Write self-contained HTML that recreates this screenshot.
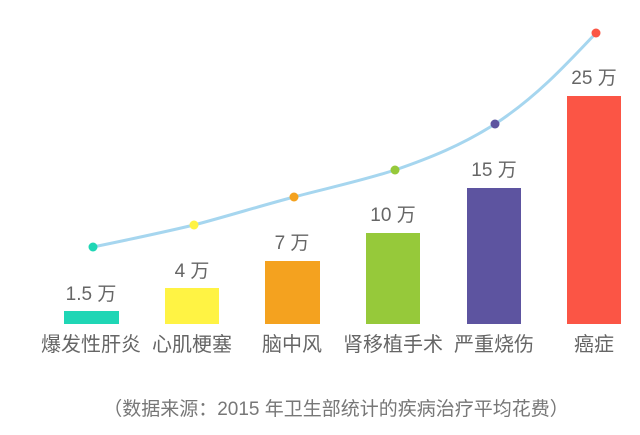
<!DOCTYPE html>
<html><head><meta charset="utf-8"><style>
body{margin:0;background:#fff;}
svg text{font-family:"Liberation Sans","Noto Sans CJK SC",sans-serif;fill:#666;}
</style></head><body>
<svg width="640" height="430" xmlns="http://www.w3.org/2000/svg">
<rect x="64" y="311" width="55" height="13" fill="#1fd6b5"/>
<rect x="165" y="288" width="54" height="36" fill="#fff344"/>
<rect x="265" y="261" width="55" height="63" fill="#f4a21f"/>
<rect x="366" y="233" width="54" height="91" fill="#96c93a"/>
<rect x="467" y="188" width="54" height="136" fill="#5d54a0"/>
<rect x="567" y="96" width="54" height="228" fill="#fb5545"/>
<path d="M93,247 C127,240 160,233 194,225 C228,216 260,206 294,197 C328,188 361,181 395,170 C430,158 462,145 495,124 C535,98 565,66 596,33" fill="none" stroke="#a6d6ef" stroke-width="3"/>
<circle cx="93" cy="247" r="4.5" fill="#1fd6b5"/>
<circle cx="194" cy="225" r="4.5" fill="#fff344"/>
<circle cx="294" cy="197" r="4.5" fill="#f4a21f"/>
<circle cx="395" cy="170" r="4.5" fill="#96c93a"/>
<circle cx="495" cy="124" r="4.5" fill="#5d54a0"/>
<circle cx="596" cy="33" r="4.5" fill="#fb5545"/>
<g font-size="19" text-anchor="middle">
<text x="91" y="300">1.5 万</text>
<text x="192" y="277">4 万</text>
<text x="292" y="249">7 万</text>
<text x="393" y="221">10 万</text>
<text x="494" y="176">15 万</text>
<text x="594" y="84">25 万</text>
</g>
<g font-size="20" text-anchor="middle">
<text x="91" y="351">爆发性肝炎</text>
<text x="192" y="351">心肌梗塞</text>
<text x="292" y="351">脑中风</text>
<text x="393" y="351">肾移植手术</text>
<text x="494" y="351">严重烧伤</text>
<text x="594" y="351">癌症</text>
</g>
<text x="336" y="415" font-size="19" text-anchor="middle" style="fill:#777">（数据来源：2015 年卫生部统计的疾病治疗平均花费）</text>
</svg>
</body></html>
